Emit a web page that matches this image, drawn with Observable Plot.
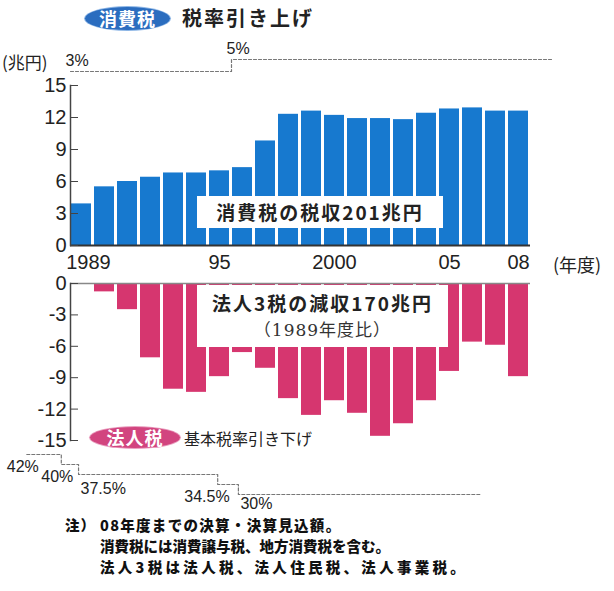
<!DOCTYPE html>
<html><head><meta charset="utf-8">
<script src="https://cdn.jsdelivr.net/npm/d3@7"></script>
<script src="https://cdn.jsdelivr.net/npm/@observablehq/plot@0.6"></script>
<style>
body{margin:0;background:#fff;}
#chart{position:relative;width:614px;height:591px;background:#fff;overflow:hidden;font-family:"Noto Sans CJK JP","Noto Sans",sans-serif;color:#222;}
#chart svg{position:absolute;left:0;}
.abs{position:absolute;white-space:nowrap;}
.badge{position:absolute;border-radius:50%;color:#fff;font-weight:bold;text-align:center;letter-spacing:1px;}
.box{position:absolute;background:#fff;text-align:center;}
.note{position:absolute;white-space:nowrap;font-weight:900;font-size:14.5px;color:#111;line-height:21px;}
</style></head><body><div id="chart"></div>
<script>
// ---- data ----
const years = [1989,1990,1991,1992,1993,1994,1995,1996,1997,1998,1999,2000,2001,2002,2003,2004,2005,2006,2007,2008];
const consumptionTax = [3.9,5.5,6.0,6.4,6.8,6.8,7.0,7.3,9.8,12.3,12.6,12.2,11.9,11.9,11.8,12.4,12.8,12.9,12.6,12.6];
const corporateLoss = [0,-0.8,-2.5,-7.1,-10.1,-10.4,-8.9,-6.6,-8.1,-11.0,-12.6,-11.2,-12.4,-14.6,-13.4,-11.2,-8.4,-5.6,-5.9,-8.9];
const yTicksTop = [0,3,6,9,12,15];
const yTicksBottom = [0,-3,-6,-9,-12,-15];
const xTickYears = [1989,1995,2000,2005,2008];
const xTickLabels = ["1989","95","2000","05","08"];
const consRateStart = [1989,1996];
const consRates = [3,5];
const consRateEnd = 2010;
const corpRateStart = [1987.1,1988.6,1989.35,1995.4,1996.3];
const corpRates = [42,40,37.5,34.5,30];
const corpRateEnd = 2006.8;

const BLUE = "#1779cf", PINK = "#d6366f";
const chart = document.getElementById("chart");
const consData = years.map((y,i)=>({year:y, value:consumptionTax[i]}));
const corpData = years.map((y,i)=>({year:y, value:corporateLoss[i]}));
const xBand = {type:"band", domain:years, paddingInner:0.12, paddingOuter:0.06};
const baseStyle = {fontFamily:"'Liberation Sans', Arial, sans-serif", background:"transparent", overflow:"visible", color:"#222"};
const xFmt = d=>xTickLabels[xTickYears.indexOf(d)];

// ---- top panel ----
const topPlot = Plot.plot({
  width:614, height:275, marginTop:85, marginBottom:30, marginLeft:70, marginRight:84,
  x:xBand, y:{domain:[0,15]}, style:baseStyle,
  marks:[
    Plot.rectY(consData,{x:"year", y:"value", fill:BLUE}),
    Plot.ruleY([0],{stroke:"#333", strokeWidth:2}),
    Plot.frame({anchor:"left", stroke:"#444", strokeWidth:1.5}),
    Plot.axisY(yTicksTop,{tickSize:-8, tickPadding:12, fontSize:20, label:null, stroke:"#444", tickFormat:d=>String(d)}),
    Plot.axisX(xTickYears.slice(0,1),{tickSize:0, tickPadding:9, dx:7, fontSize:20, label:null, tickFormat:xFmt}),
    Plot.axisX(xTickYears.slice(1),{tickSize:0, tickPadding:9, fontSize:20, label:null, tickFormat:xFmt})
  ]
});
topPlot.style.top = "0px";
chart.appendChild(topPlot);

// ---- bottom panel ----
const botPlot = Plot.plot({
  width:614, height:185, marginTop:13, marginBottom:15, marginLeft:70, marginRight:84,
  x:{...xBand, axis:null}, y:{domain:[-15,0]}, style:baseStyle,
  marks:[
    Plot.rectY(corpData,{x:"year", y:"value", fill:PINK}),
    Plot.ruleY([0],{stroke:"#888", strokeWidth:1.5}),
    Plot.frame({anchor:"left", stroke:"#444", strokeWidth:1.5}),
    Plot.axisY(yTicksBottom,{tickSize:-8, tickPadding:12, fontSize:20, label:null, stroke:"#444", tickFormat:d=>String(d)})
  ]
});
botPlot.style.top = "270px";
chart.appendChild(botPlot);

// ---- consumption tax rate steps ----
const consPts = consRates.map((r,i)=>({year:consRateStart[i], rate:r})).concat([{year:consRateEnd, rate:consRates[consRates.length-1]}]);
const consPlot = Plot.plot({
  width:614, height:100, marginTop:0, marginBottom:0, marginLeft:70, marginRight:84,
  x:{type:"linear", domain:[1989,2009], axis:null},
  y:{type:"linear", domain:[3,5], range:[71,59], axis:null},
  style:baseStyle,
  marks:[
    Plot.line(consPts,{x:"year", y:"rate", curve:"step-after", stroke:"#777", strokeWidth:1.2, strokeDasharray:"3,2"}),
    Plot.text(consPts.slice(0,-1),{x:"year", y:"rate", text:d=>d.rate+"%", textAnchor:"start", dx:-5, dy:-11, fontSize:16, fill:"#222"})
  ]
});
consPlot.style.top = "0px";
chart.appendChild(consPlot);

// ---- corporate tax rate steps ----
const corpPts = corpRates.map((r,i)=>({year:corpRateStart[i], rate:r})).concat([{year:corpRateEnd, rate:corpRates[corpRates.length-1]}]);
const corpLabels = corpPts.slice(0,-1);
const corpPlot = Plot.plot({
  width:614, height:530, marginTop:0, marginBottom:0, marginLeft:70, marginRight:84,
  x:{type:"linear", domain:[1989,2009], axis:null},
  y:{type:"point", domain:corpRates, range:[453,495], padding:0, axis:null},
  style:baseStyle,
  marks:[
    Plot.line(corpPts,{x:"year", y:"rate", curve:"step-after", stroke:"#777", strokeWidth:1.2, strokeDasharray:"3,2"}),
    Plot.text(corpLabels.filter((d,i)=>i===0||i===1||i===3),{x:"year", y:"rate", text:d=>d.rate+"%", textAnchor:"end", dx:12, dy:12, fontSize:16, fill:"#222"}),
    Plot.text(corpLabels.filter((d,i)=>i===2),{x:"year", y:"rate", text:d=>d.rate+"%", textAnchor:"start", dx:2, dy:14, fontSize:16, fill:"#222"}),
    Plot.text(corpLabels.filter((d,i)=>i===4),{x:"year", y:"rate", text:d=>d.rate+"%", textAnchor:"start", dx:2, dy:9, fontSize:16, fill:"#222"})
  ]
});
corpPlot.style.top = "0px";
chart.appendChild(corpPlot);

// ---- text annotations ----
function add(cls, html, css){const e=document.createElement("div");e.className=cls;e.innerHTML=html;Object.assign(e.style,css);chart.appendChild(e);return e;}
add("badge","消費税",{left:"85px",top:"7px",width:"85px",height:"23px",lineHeight:"23px",fontSize:"18px",background:"#2b6dbf",boxShadow:"0 0 0 1px #8db6e6"});
add("abs","税率引き上げ",{left:"182px",top:"4px",fontSize:"20px",fontWeight:"bold",letterSpacing:"2px",lineHeight:"28px"});
add("abs","(兆円)",{left:"2px",top:"51px",fontSize:"17px",lineHeight:"22px"});
add("abs","(年度)",{left:"553px",top:"251px",fontSize:"18px",lineHeight:"26px"});
add("box","消費税の税収201兆円",{left:"197px",top:"196px",width:"246px",height:"32px",lineHeight:"32px",fontSize:"19px",fontWeight:"bold",letterSpacing:"2px"});
add("box",'<div style="font-size:19px;font-weight:bold;letter-spacing:2px;line-height:30px;padding-top:3px">法人3税の減収170兆円</div><div style="font-family:\'DejaVu Serif\',\'Noto Sans CJK JP\',serif;font-size:17px;letter-spacing:1px;line-height:24px;color:#333">（1989年度比）</div>',{left:"197px",top:"285px",width:"251px",height:"62px"});
add("badge","法人税",{left:"90px",top:"427px",width:"90px",height:"21px",lineHeight:"21px",fontSize:"18px",background:"#d2457f",boxShadow:"0 0 0 1px #eaa0c0"});
add("abs","基本税率引き下げ",{left:"184px",top:"427px",fontSize:"16px",lineHeight:"22px"});
add("note","注）",{left:"65px",top:"514px",letterSpacing:"1px"});
add("note","08年度までの決算・決算見込額。",{left:"100px",top:"514px",letterSpacing:"1.3px"});
add("note","消費税には消費譲与税、地方消費税を含む。",{left:"100px",top:"535px",letterSpacing:"0px"});
add("note","法人3税は法人税、法人住民税、法人事業税。",{left:"100px",top:"556px",letterSpacing:"3.3px"});
</script></body></html>
